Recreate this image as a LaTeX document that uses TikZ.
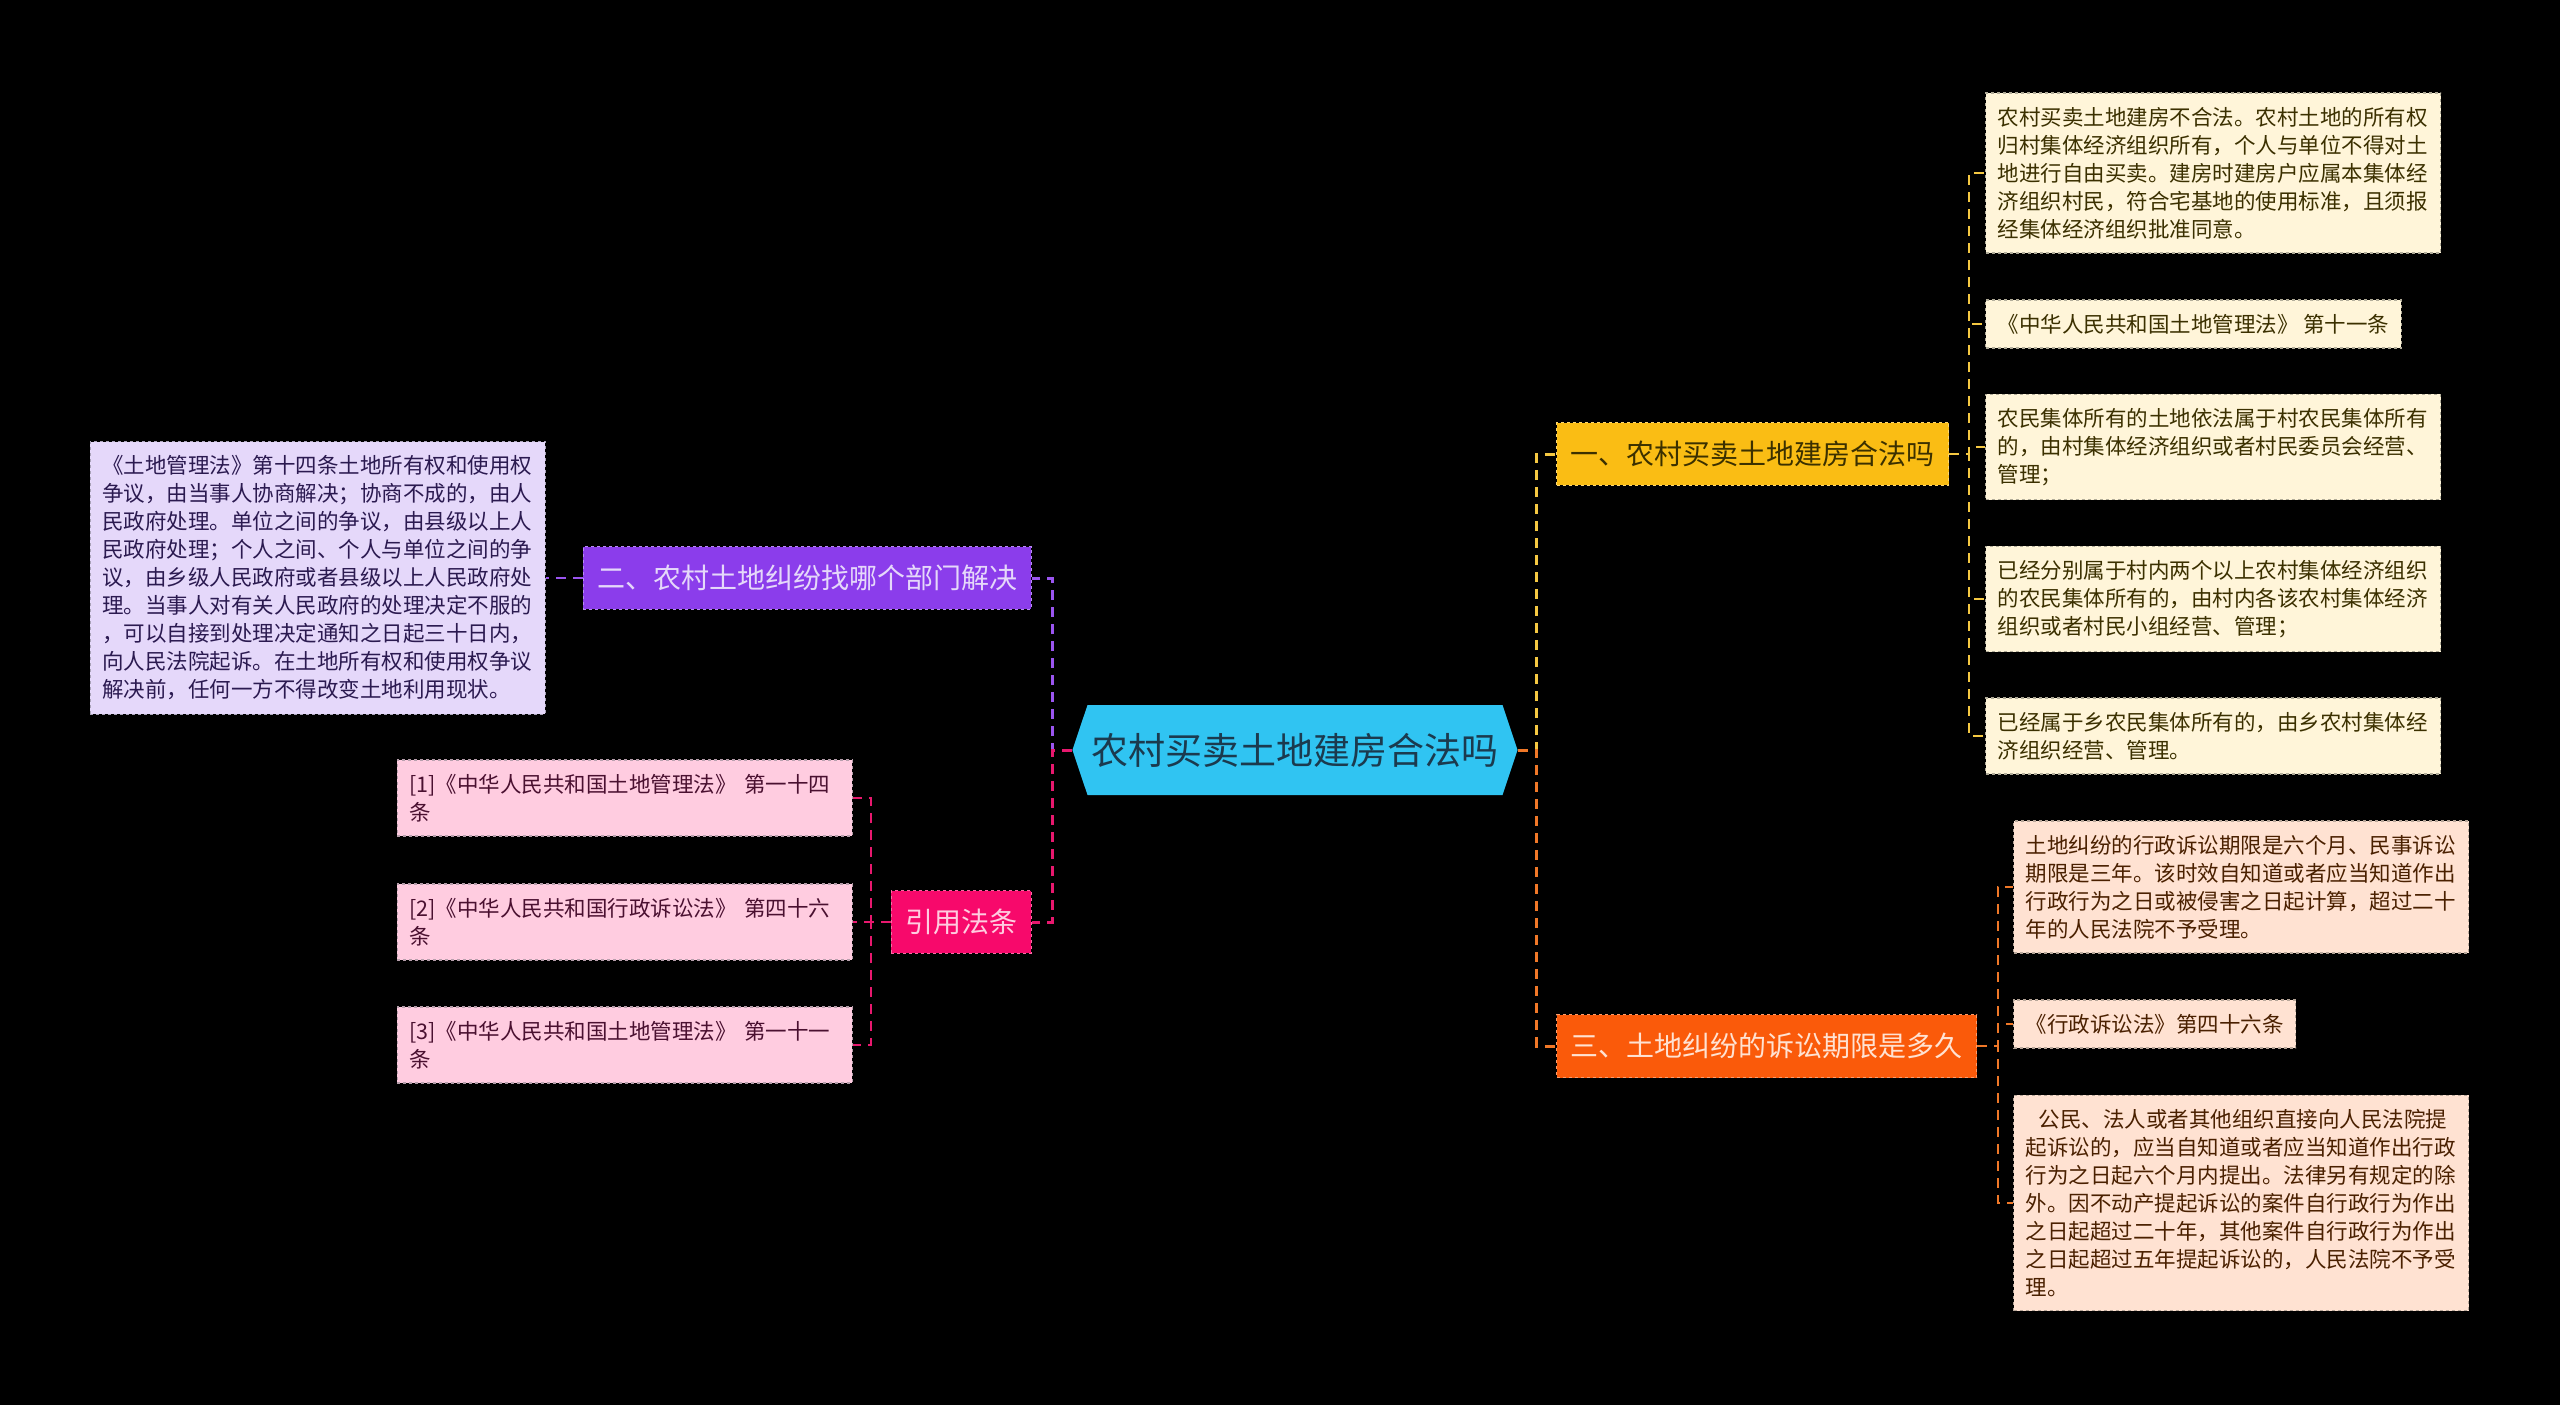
\documentclass[tikz,border=0pt]{standalone}
\usepackage{fontspec}
\setmainfont{Noto Sans CJK SC}
\usetikzlibrary{shapes.symbols}

\definecolor{rootfill}{HTML}{30C4F2}
\definecolor{roottext}{HTML}{1B3A4E}
\definecolor{yelfill}{HTML}{FABD14}
\definecolor{yelleaf}{HTML}{FFF5D9}
\definecolor{yelline}{HTML}{F5C842}
\definecolor{yeltext}{HTML}{3B3000}
\definecolor{purfill}{HTML}{8B3DEB}
\definecolor{purleaf}{HTML}{E5D8FA}
\definecolor{purline}{HTML}{9B55F0}
\definecolor{purtext}{HTML}{2B1A50}
\definecolor{pinkfill}{HTML}{F7096B}
\definecolor{pinkleaf}{HTML}{FFCCE0}
\definecolor{pinkline}{HTML}{E8186E}
\definecolor{pinktext}{HTML}{4A1030}
\definecolor{orgfill}{HTML}{FA5A0A}
\definecolor{orgleaf}{HTML}{FFE2D2}
\definecolor{orgline}{HTML}{F07828}
\definecolor{orgtext}{HTML}{4A2000}

\tikzset{
  branch/.style={rectangle,inner xsep=14pt,inner ysep=18.5pt,dashed,line width=1.2pt,
    font=\fontsize{28}{34}\selectfont},
  leaf/.style={rectangle,inner xsep=12pt,inner ysep=14pt,align=left,dashed,line width=1.2pt,
    font=\fontsize{21.5}{28}\selectfont},
  wide/.style={text width=431pt},
  link/.style={dash pattern=on 10pt off 7pt,line width=3pt},
  twig/.style={dash pattern=on 10pt off 7pt,line width=2.5pt},
}

\begin{document}
\begin{tikzpicture}[x=1pt,y=-1pt]
  \fill[black] (0,0) rectangle (2560,1405);
  \useasboundingbox (0,0) rectangle (2560,1405);

  % centre
  \node[signal,signal to=west and east,signal pointer angle=143,fill=rootfill,text=roottext,
    inner xsep=4pt,minimum height=90pt,font=\fontsize{37}{44}\selectfont] (root) at (1295,750) {农村买卖土地建房合法吗};

  % branches
  \node[branch,anchor=west,fill=yelfill,draw=yelfill!60!white,text=yeltext] (yel) at (1556,454) {一、农村买卖土地建房合法吗};
  \node[branch,anchor=west,fill=orgfill,draw=orgfill!60!white,text=orgleaf] (org) at (1556,1046) {三、土地纠纷的诉讼期限是多久};
  \node[branch,anchor=east,fill=purfill,draw=purfill!60!white,text=purleaf] (pur) at (1032,578) {二、农村土地纠纷找哪个部门解决};
  \node[branch,anchor=east,fill=pinkfill,draw=pinkfill!60!white,text=pinkleaf] (pink) at (1032,922) {引用法条};

  % leaves, right side
  \node[leaf,wide,anchor=west,fill=yelleaf,draw=yeltext!40,text=yeltext] (y1) at (1985,173) {农村买卖土地建房不合法。农村土地的所有权\\归村集体经济组织所有，个人与单位不得对土\\地进行自由买卖。建房时建房户应属本集体经\\济组织村民，符合宅基地的使用标准，且须报\\经集体经济组织批准同意。};
  \node[leaf,anchor=west,fill=yelleaf,draw=yeltext!40,text=yeltext] (y2) at (1985,324) {《中华人民共和国土地管理法》 第十一条};
  \node[leaf,wide,anchor=west,fill=yelleaf,draw=yeltext!40,text=yeltext] (y3) at (1985,447) {农民集体所有的土地依法属于村农民集体所有\\的，由村集体经济组织或者村民委员会经营、\\管理；};
  \node[leaf,wide,anchor=west,fill=yelleaf,draw=yeltext!40,text=yeltext] (y4) at (1985,599) {已经分别属于村内两个以上农村集体经济组织\\的农民集体所有的，由村内各该农村集体经济\\组织或者村民小组经营、管理；};
  \node[leaf,wide,anchor=west,fill=yelleaf,draw=yeltext!40,text=yeltext] (y5) at (1985,736) {已经属于乡农民集体所有的，由乡农村集体经\\济组织经营、管理。};

  \node[leaf,wide,anchor=west,fill=orgleaf,draw=orgtext!40,text=orgtext] (o1) at (2013,887) {土地纠纷的行政诉讼期限是六个月、民事诉讼\\期限是三年。该时效自知道或者应当知道作出\\行政行为之日或被侵害之日起计算，超过二十\\年的人民法院不予受理。};
  \node[leaf,anchor=west,fill=orgleaf,draw=orgtext!40,text=orgtext] (o2) at (2013,1024) {《行政诉讼法》第四十六条};
  \node[leaf,wide,anchor=west,fill=orgleaf,draw=orgtext!40,text=orgtext] (o3) at (2013,1203) {\hspace*{13pt}公民、法人或者其他组织直接向人民法院提\\起诉讼的，应当自知道或者应当知道作出行政\\行为之日起六个月内提出。法律另有规定的除\\外。因不动产提起诉讼的案件自行政行为作出\\之日起超过二十年，其他案件自行政行为作出\\之日起超过五年提起诉讼的，人民法院不予受\\理。};

  % leaves, left side
  \node[leaf,wide,anchor=east,fill=purleaf,draw=purtext!40,text=purtext] (p1) at (546,578) {《土地管理法》第十四条土地所有权和使用权\\争议，由当事人协商解决；协商不成的，由人\\民政府处理。单位之间的争议，由县级以上人\\民政府处理；个人之间、个人与单位之间的争\\议，由乡级人民政府或者县级以上人民政府处\\理。当事人对有关人民政府的处理决定不服的\\，可以自接到处理决定通知之日起三十日内，\\向人民法院起诉。在土地所有权和使用权争议\\解决前，任何一方不得改变土地利用现状。};

  \node[leaf,wide,anchor=east,fill=pinkleaf,draw=pinktext!40,text=pinktext] (k1) at (853,798) {[1]《中华人民共和国土地管理法》 第一十四\\条};
  \node[leaf,wide,anchor=east,fill=pinkleaf,draw=pinktext!40,text=pinktext] (k2) at (853,922) {[2]《中华人民共和国行政诉讼法》 第四十六\\条};
  \node[leaf,wide,anchor=east,fill=pinkleaf,draw=pinktext!40,text=pinktext] (k3) at (853,1045) {[3]《中华人民共和国土地管理法》 第一十一\\条};

  % connectors
  \draw[link,yelline] (root.east) -- ++(19,0) |- (yel.west);
  \draw[link,orgline] (root.east) -- ++(19,0) |- (org.west);
  \draw[link,purline] (root.west) -- ++(-20,0) |- (pur.east);
  \draw[link,pinkline] (root.west) -- ++(-20,0) |- (pink.east);

  \foreach \n in {y1,y2,y3,y4,y5}
    \draw[twig,yelline] (yel.east) -- ++(20,0) |- (\n.west);
  \foreach \n in {o1,o2,o3}
    \draw[twig,orgline] (org.east) -- ++(21,0) |- (\n.west);
  \draw[twig,purline] (pur.west) -- (p1.east);
  \foreach \n in {k1,k2,k3}
    \draw[twig,pinkline] (pink.west) -- ++(-20,0) |- (\n.east);
\end{tikzpicture}
\end{document}
